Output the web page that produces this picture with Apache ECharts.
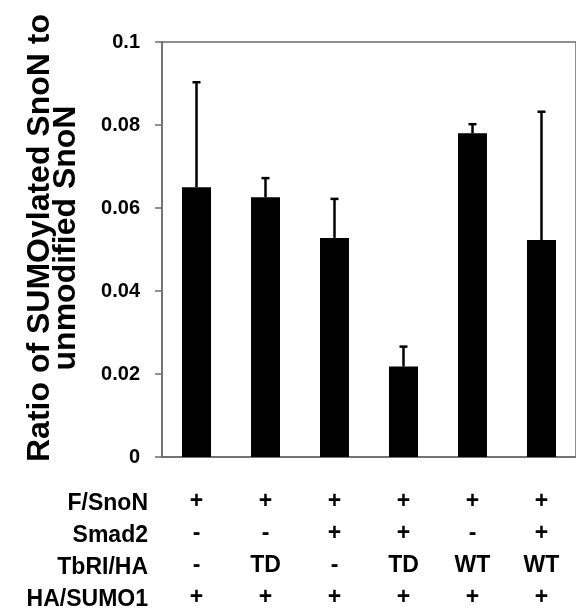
<!DOCTYPE html>
<html>
<head>
<meta charset="utf-8">
<script src="https://cdn.jsdelivr.net/npm/echarts@6/dist/echarts.min.js"></script>
<style>
html,body{margin:0;padding:0;background:#fff;}
#chart{width:576px;height:614px;}
</style>
</head>
<body>
<div id="chart"></div>
<script>
// Data
var categories = ['1', '2', '3', '4', '5', '6'];
var ratioValues = [0.065, 0.0626, 0.0528, 0.0218, 0.078, 0.0523];
var errorValues = [0.0253, 0.0046, 0.0094, 0.0048, 0.0022, 0.0309];
var rowLabels = ['F/SnoN', 'Smad2', 'TbRI/HA', 'HA/SUMO1'];
var rowFSnoN = ['+', '+', '+', '+', '+', '+'];
var rowSmad2 = ['-', '-', '+', '+', '-', '+'];
var rowTbRI = ['-', 'TD', '-', 'TD', 'WT', 'WT'];
var rowSUMO1 = ['+', '+', '+', '+', '+', '+'];
var yTitleLines = ['Ratio of SUMOylated SnoN to', 'unmodified SnoN'];
var yMin = 0, yMax = 0.1, yInterval = 0.02;

var FONT = '"Liberation Sans", Arial, sans-serif';
var rows = [rowFSnoN, rowSmad2, rowTbRI, rowSUMO1];

var chart = echarts.init(document.getElementById('chart'));

var errData = categories.map(function (c, i) {
  return [i, ratioValues[i], ratioValues[i] + errorValues[i]];
});

var graphics = [];
yTitleLines.forEach(function (t, i) {
  graphics.push({
    type: 'text',
    x: [40, 66][i],
    y: 238,
    rotation: Math.PI / 2,
    style: {
      text: t,
      font: 'bold 32px ' + FONT,
      fill: '#000',
      align: 'center',
      verticalAlign: 'middle'
    }
  });
});
rowLabels.forEach(function (t, i) {
  graphics.push({
    type: 'text',
    x: 148,
    y: 504 + i * 32,
    style: {
      text: t,
      font: 'bold 23px ' + FONT,
      fill: '#000',
      align: 'right',
      verticalAlign: 'middle'
    }
  });
});

var option = {
  animation: false,
  backgroundColor: '#fff',
  grid: {
    left: 162, top: 42, right: -4, bottom: 155,
    show: true, borderColor: '#6b6b6b', borderWidth: 1.5, backgroundColor: 'transparent'
  },
  xAxis: {
    type: 'category',
    data: categories,
    axisLine: { show: true, lineStyle: { color: '#6b6b6b', width: 1.5 } },
    axisTick: { show: false },
    axisLabel: {
      show: true,
      margin: 29,
      interval: 0,
      fontFamily: FONT,
      fontWeight: 'bold',
      fontSize: 23,
      lineHeight: 32,
      color: '#000',
      formatter: function (v, idx) {
        return rows.map(function (r) { return r[idx]; }).join('\n');
      }
    }
  },
  yAxis: {
    type: 'value',
    min: yMin, max: yMax, interval: yInterval,
    splitLine: { show: false },
    axisLine: { show: true, lineStyle: { color: '#6b6b6b', width: 1.5 } },
    axisTick: { show: true, length: 7, lineStyle: { color: '#6b6b6b', width: 1.5 } },
    axisLabel: {
      margin: 22,
      fontFamily: FONT,
      fontWeight: 'bold',
      fontSize: 20,
      color: '#000'
    }
  },
  graphic: graphics,
  series: [
    {
      type: 'bar',
      data: ratioValues,
      barWidth: 29,
      itemStyle: { color: '#000' },
      z: 2
    },
    {
      type: 'custom',
      data: errData,
      z: 3,
      renderItem: function (params, api) {
        var x = api.value(0);
        var p0 = api.coord([x, api.value(1)]);
        var p1 = api.coord([x, api.value(2)]);
        var half = 4;
        return {
          type: 'group',
          children: [
            { type: 'line', shape: { x1: p0[0], y1: p0[1], x2: p1[0], y2: p1[1] }, style: { stroke: '#000', lineWidth: 2.5 } },
            { type: 'line', shape: { x1: p1[0] - half, y1: p1[1], x2: p1[0] + half, y2: p1[1] }, style: { stroke: '#000', lineWidth: 2.5 } }
          ]
        };
      }
    }
  ]
};
chart.setOption(option);
</script>
</body>
</html>
